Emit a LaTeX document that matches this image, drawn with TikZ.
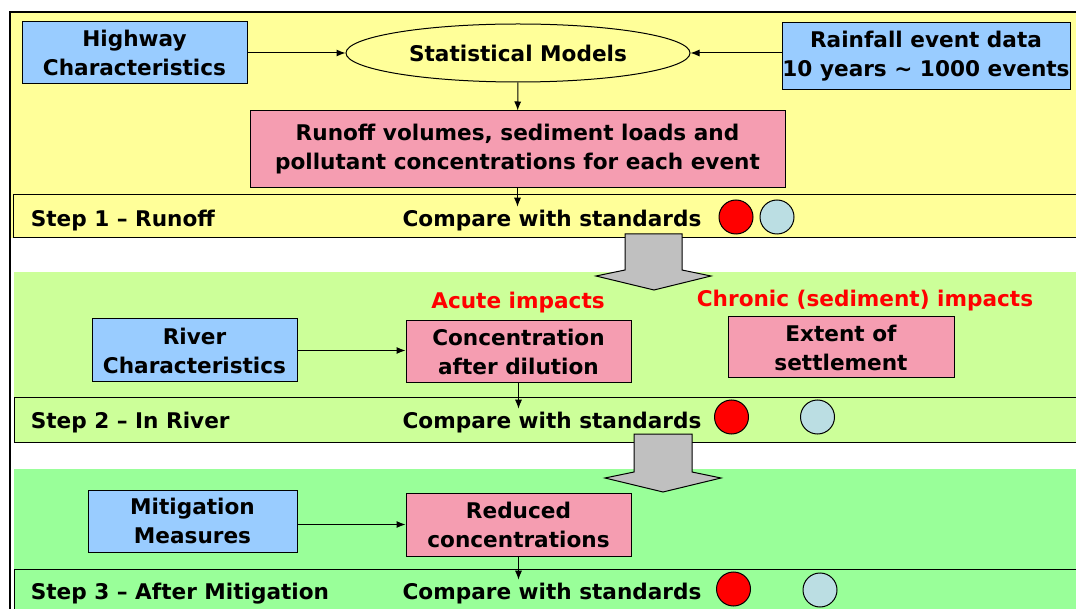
\documentclass[tikz,border=0pt]{standalone}
\usepackage{fontspec}
\setmainfont{DejaVu Sans}
\usetikzlibrary{arrows.meta,shapes.geometric}

\definecolor{runyellow}{HTML}{FFFF99}
\definecolor{rivergreen}{HTML}{CCFF99}
\definecolor{mitgreen}{HTML}{99FF99}
\definecolor{inblue}{HTML}{99CCFF}
\definecolor{outpink}{HTML}{F59DB1}
\definecolor{passcyan}{HTML}{BBDEE3}
\definecolor{stepgray}{HTML}{C0C0C0}

\begin{document}
\begin{tikzpicture}[x=1pt,y=-1pt,>={Latex[length=9pt,width=7pt]},line width=1pt,
  font=\fontsize{21.6}{29}\selectfont\bfseries,
  inbox/.style={draw,fill=inblue,align=center,inner sep=0pt},
  outbox/.style={draw,fill=outpink,align=center,inner sep=0pt},
  lamp/.style={draw,circle,minimum size=34pt,inner sep=0pt},
  impact/.style={text=red,inner sep=0pt}]
\useasboundingbox (0,0) rectangle (1076,609);
\clip (0,0) rectangle (1076,609);

% frame and the three steps
\fill[white] (0,0) rectangle (1076,609);
\fill[runyellow] (10,12) rectangle (1100,238);
\fill[rivergreen] (14,272) rectangle (1100,442);
\fill[mitgreen] (14,469) rectangle (1100,640);
\draw[line width=1.5pt] (10,640) -- (10,12) -- (1100,12);
\draw[fill=runyellow] (13,195) rectangle (1100,238);
\draw[fill=rivergreen] (14,397) rectangle (1100,442);
\draw[fill=mitgreen] (14,569) rectangle (1100,640);

% step 1
\node[inbox,minimum width=225pt,minimum height=62pt] (hwy) at (134.5,53) {Highway\\Characteristics};
\node[draw,ellipse,inner sep=0pt,minimum width=344pt,minimum height=58pt] (stat) at (518,53) {Statistical Models};
\node[inbox,minimum width=288pt,minimum height=67pt] (rain) at (926,56.5) {Rainfall event data\\10 years \textasciitilde{} 1000 events};
\node[outbox,minimum width=535pt,minimum height=77pt] (runoff) at (517.5,149.5) {Runoff volumes, sediment loads and\\pollutant concentrations for each event};
\node[anchor=west] (step1) at (27,221) {Step 1 -- Runoff};
\node (cmp1) at (552,221) {Compare with standards};
\node[lamp,fill=red] (fail1) at (736,217) {};
\node[lamp,fill=passcyan] (pass1) at (777,217) {};

% step 2
\node[inbox,minimum width=205pt,minimum height=63pt] (river) at (194.5,350.5) {River\\Characteristics};
\node[outbox,minimum width=225pt,minimum height=62pt] (conc) at (518.5,352) {Concentration\\after dilution};
\node[impact] (acute) at (518,303) {Acute impacts};
\node[impact] (chronic) at (865,301) {Chronic (sediment) impacts};
\node[outbox,minimum width=226pt,minimum height=61pt] (extent) at (841,347.5) {Extent of\\settlement};
\node[anchor=west] (step2) at (27,423) {Step 2 -- In River};
\node (cmp2) at (552,423) {Compare with standards};
\node[lamp,fill=red] (fail2) at (731.5,417) {};
\node[lamp,fill=passcyan] (pass2) at (817.5,417) {};

% step 3
\node[inbox,minimum width=209pt,minimum height=62pt] (mitig) at (192.5,521) {Mitigation\\Measures};
\node[outbox,minimum width=225pt,minimum height=63pt] (reduced) at (518.5,524.5) {Reduced\\concentrations};
\node[anchor=west] (step3) at (27,594) {Step 3 -- After Mitigation};
\node (cmp3) at (552,594) {Compare with standards};
\node[lamp,fill=red] (fail3) at (733.5,589) {};
\node[lamp,fill=passcyan] (pass3) at (820,590) {};

% big arrows between the steps
\draw[fill=stepgray] (625,234) -- (682,234) -- (682,270) -- (711,276) -- (654,290)
  -- (596,276) -- (625,270) -- cycle;
\draw[fill=stepgray] (634,434) -- (692,434) -- (692,472) -- (721,478) -- (663,492)
  -- (605,478) -- (634,472) -- cycle;

\path[->] (hwy) edge (hwy -| stat.west)
          (rain.west |- stat) edge (stat.east)
          (stat) edge (runoff)
          (runoff.south) edge (runoff.south |- cmp1.north)
          (river) edge (river -| conc.west)
          (conc.south) edge (conc.south |- cmp2.north)
          (mitig.east |- reduced) edge (reduced.west)
          (reduced.south) edge (reduced.south |- cmp3.north);
\end{tikzpicture}
\end{document}
